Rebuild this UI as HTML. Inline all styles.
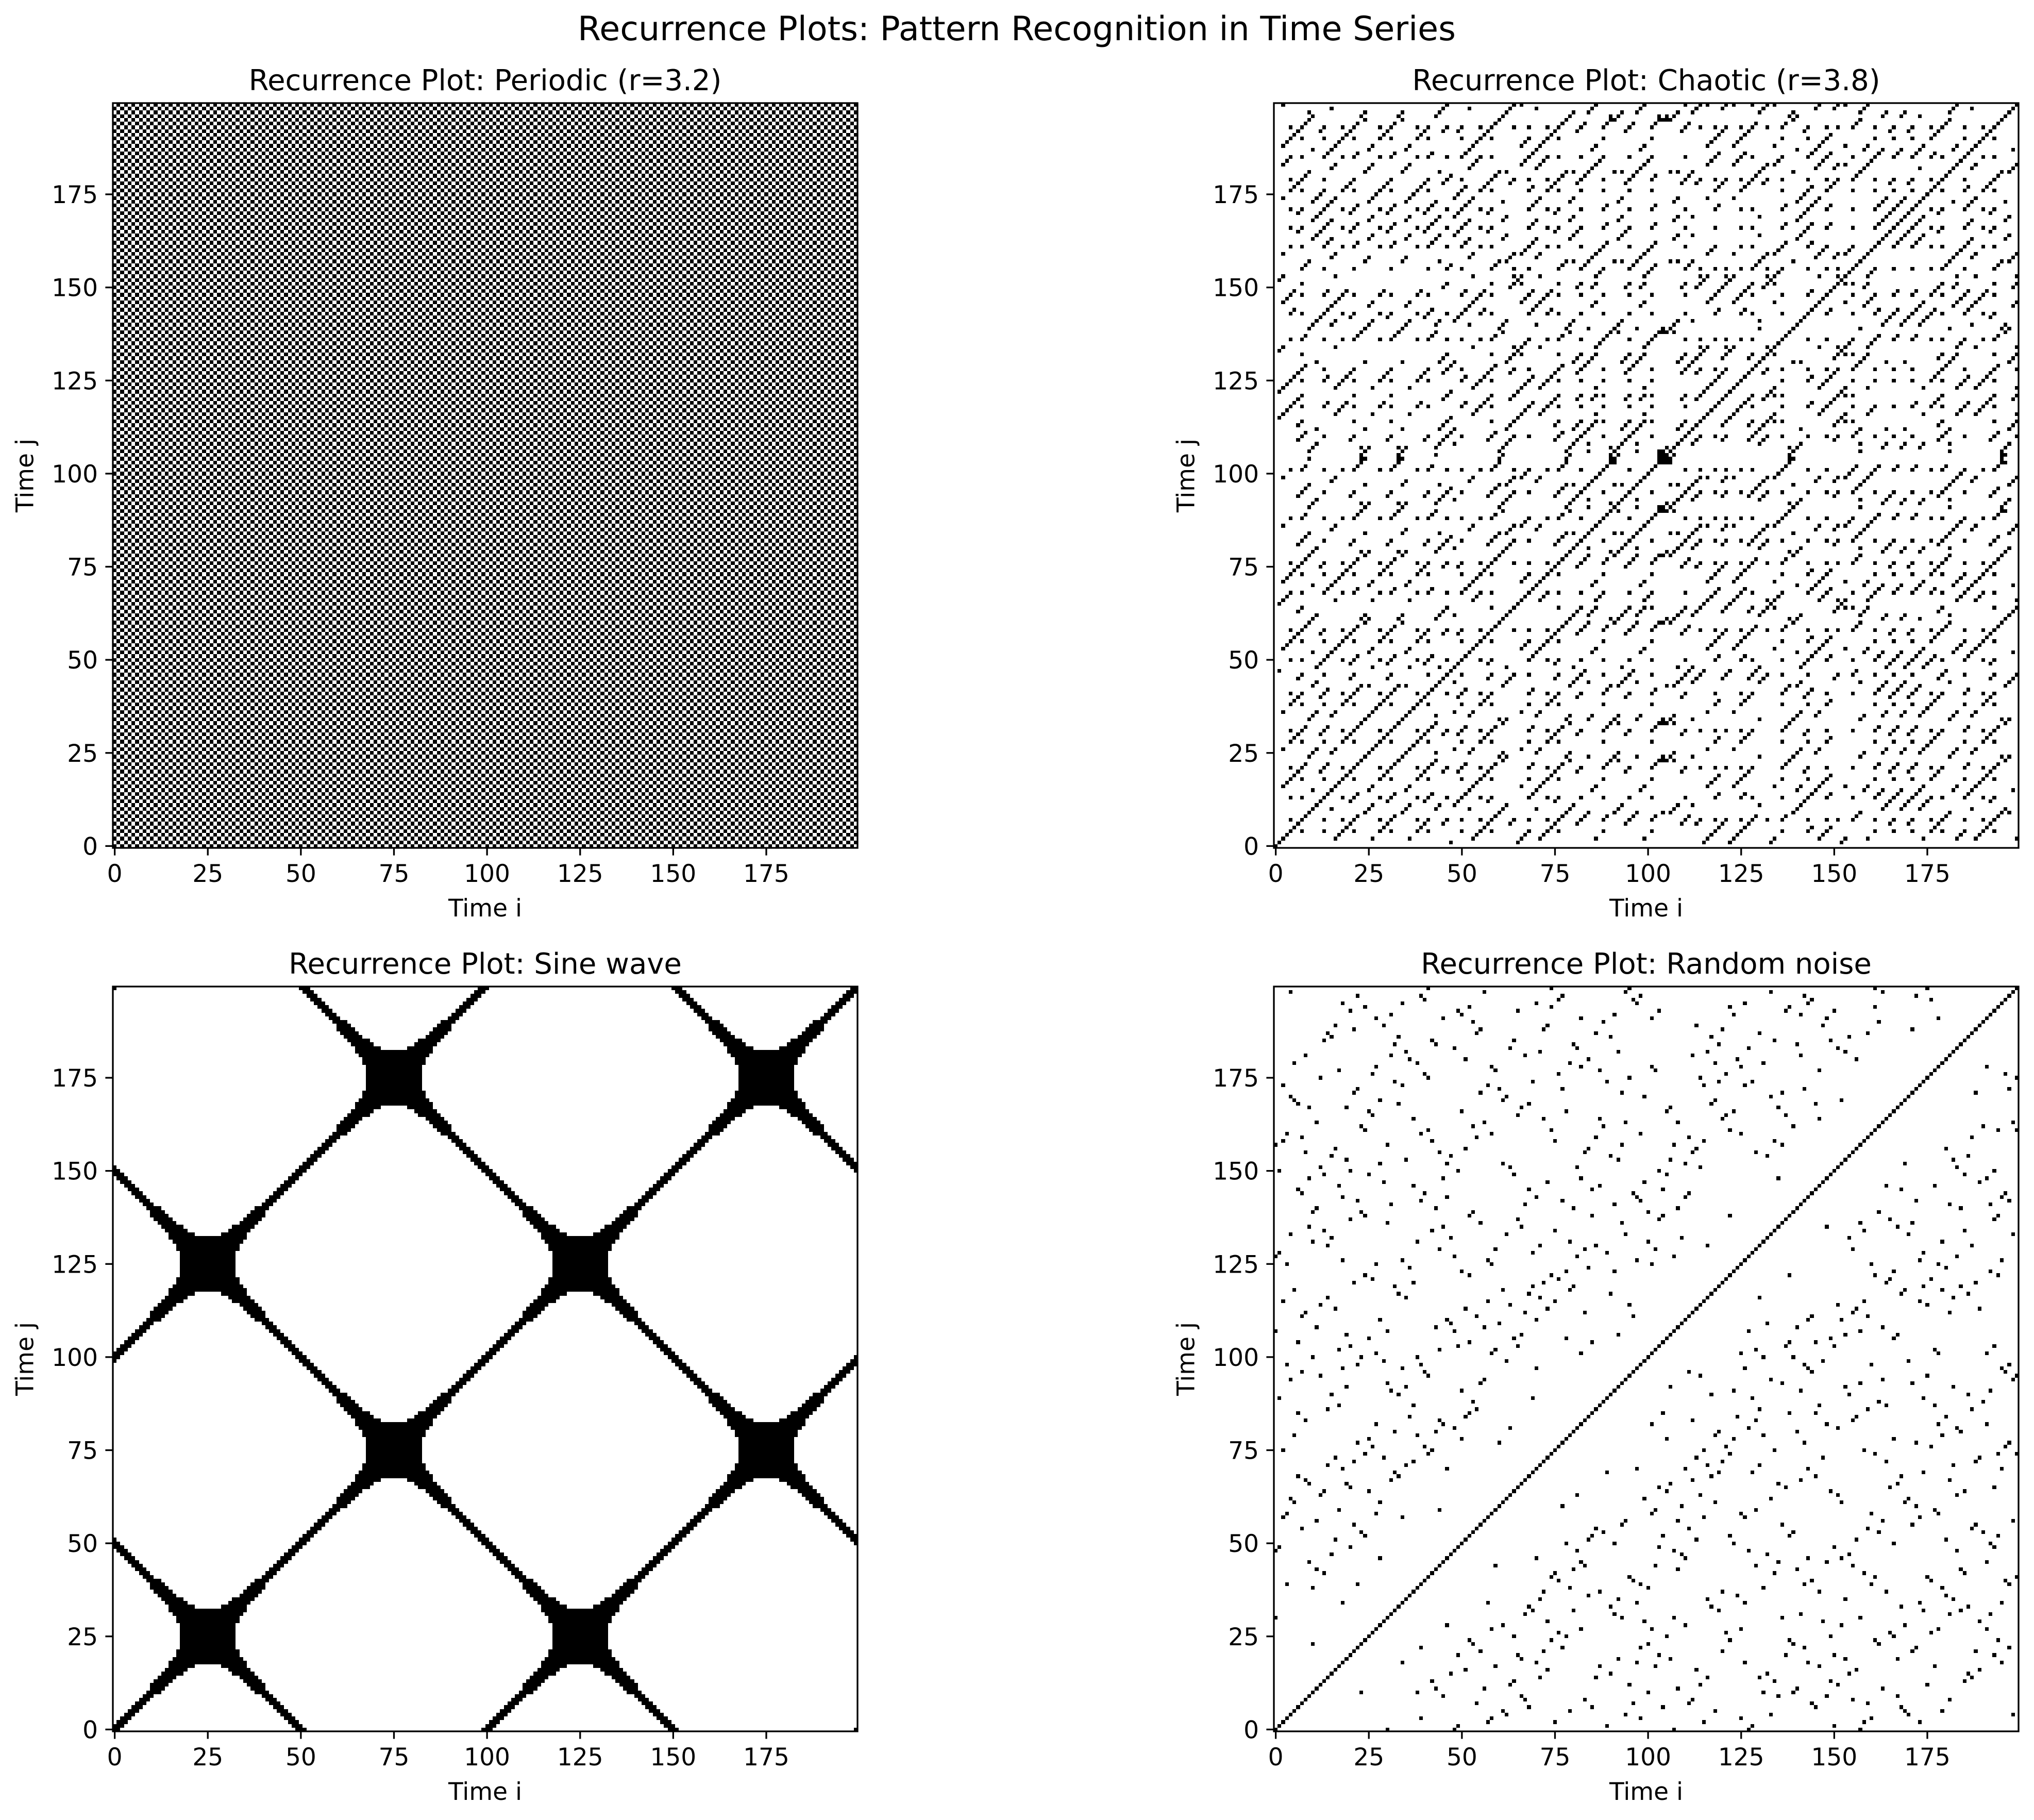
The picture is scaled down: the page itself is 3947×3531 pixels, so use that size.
<!DOCTYPE html>
<html><head><meta charset="utf-8"><style>
html,body{margin:0;padding:0;background:#fff;}
svg{display:block;}
text{font-family:"DejaVu Sans","Liberation Sans",sans-serif;fill:#000;}
</style></head><body>
<svg id="fig" width="3947" height="3531" viewBox="0 0 3947 3531" xmlns="http://www.w3.org/2000/svg">
<rect width="3947" height="3531" fill="#fff"/>
<text x="1973" y="78" font-size="65" text-anchor="middle">Recurrence Plots: Pattern Recognition in Time Series</text>
</svg>
<script>
// ---- data ----
const tickValues = [0, 25, 50, 75, 100, 125, 150, 175];
const nPoints = 200;
const periodicCycle = [0.513, 0.799];     // period-2 orbit of logistic map r=3.2
const chaoticParams = [3.8, 0.1];          // r, x0
const sinePeriod = [100];
const thresholds = [0.1, 0.03, 0.1, 0.015]; // periodic, chaotic, sine, noise
const noiseValues = [
 37,82,14,59,91,6,48,73,25,64,3,88,41,17,70,52,96,29,11,66,
 80,33,57,2,45,19,77,61,8,94,36,23,85,50,12,68,99,31,4,58,
 75,43,16,87,27,63,9,53,38,81,21,97,46,1,72,34,89,13,60,28,
 55,7,92,40,18,79,65,24,49,84,10,69,32,95,44,15,76,56,20,5,
 86,39,62,26,98,47,71,30,0,83,51,22,67,35,90,42,74,11,58,93,
 3,61,28,80,47,19,66,37,88,54,9,73,25,96,41,14,69,50,6,85,
 32,77,45,21,99,60,12,38,83,27,70,4,53,91,16,64,35,79,46,2,
 87,23,57,10,74,48,30,94,63,18,81,40,8,67,52,26,97,36,15,72,
 59,44,1,89,31,78,20,65,49,7,92,34,56,13,84,42,76,29,61,5,
 98,24,68,39,86,17,51,71,33,95,0,62,22,80,45,11,75,57,90,43];
const titles = ["Recurrence Plot: Periodic (r=3.2)","Recurrence Plot: Chaotic (r=3.8)","Recurrence Plot: Sine wave","Recurrence Plot: Random noise"];

// ---- series ----
function periodicSeries(){const s=[];for(let t=0;t<nPoints;t++)s.push(periodicCycle[t%2]);return s;}
function chaoticSeries(){const s=[];let x=chaoticParams[1];for(let t=0;t<nPoints;t++){s.push(x);x=chaoticParams[0]*x*(1-x);}return s;}
function sineSeries(){const s=[];for(let t=0;t<nPoints;t++)s.push(Math.sin(2*Math.PI*t/sinePeriod[0]));return s;}
function noiseSeries(){return noiseValues.map(v=>v/100);}

const NS="http://www.w3.org/2000/svg";
const svg=document.getElementById('fig');
const size=1445;
const panels=[
 {x:219,y:200,series:periodicSeries(),eps:thresholds[0],name:'periodic'},
 {x:2472,y:200,series:chaoticSeries(),eps:thresholds[1],name:'chaotic'},
 {x:219,y:1914,series:sineSeries(),eps:thresholds[2],name:'sine-wave'},
 {x:2472,y:1914,series:noiseSeries(),eps:thresholds[3],name:'random-noise'}
];
function mk(tag,attrs,parent){const e=document.createElementNS(NS,tag);for(const k in attrs)e.setAttribute(k,attrs[k]);(parent||svg).appendChild(e);return e;}

panels.forEach((p,pi)=>{
 const sx=v=>p.x+(v+0.5)/nPoints*size;
 const sy=v=>p.y+size-(v+0.5)/nPoints*size;
 const g=mk('g',{});
 
 
 let d='';
 const s=p.series;
 for(let j=0;j<nPoints;j++){
  const y0=Math.round(sy(j+0.5)), y1=Math.round(sy(j-0.5));
  let i=0;
  while(i<nPoints){
   if(Math.abs(s[i]-s[j])<=p.eps+1e-9){
    let k=i;while(k+1<nPoints&&Math.abs(s[k+1]-s[j])<=p.eps+1e-9)k++;
    const x0=Math.round(sx(i-0.5)), x1=Math.round(sx(k+0.5));
    d+=`M${x0} ${y0}H${x1}V${y1}H${x0}Z`;
    i=k+1;
   } else i++;
  }
 }
 const cells=mk('path',{d:d,fill:'#000'},g);
 
 
 const frame=mk('rect',{x:p.x,y:p.y,width:size,height:size,fill:'none',stroke:'#000','stroke-width':3.3},g);
 
 
 tickValues.forEach(t=>{
  const X=sx(t), Y=sy(t);
  const tx=mk('line',{x1:X,x2:X,y1:p.y+size,y2:p.y+size+14.6,stroke:'#000','stroke-width':3.3},g);
  
  
  const lx=mk('text',{x:X,y:p.y+size+66,'font-size':47,'text-anchor':'middle'},g);
  lx.textContent=t;
  
  
  const ty=mk('line',{x1:p.x-14.6,x2:p.x,y1:Y,y2:Y,stroke:'#000','stroke-width':3.3},g);
  
  
  const ly=mk('text',{x:p.x-29,y:Y+17,'font-size':47,'text-anchor':'end'},g);
  ly.textContent=t;
  
  
 });
 const xl=mk('text',{x:p.x+size/2,y:p.y+size+133,'font-size':47,'text-anchor':'middle'},g);
 xl.textContent='Time i';
 
 
 const yx=p.x-170, yy=p.y+size/2;
 const yl=mk('text',{x:yx,y:yy,'font-size':47,'text-anchor':'middle','dominant-baseline':'central',transform:`rotate(-90 ${yx} ${yy})`},g);
 yl.textContent='Time j';
 
 
 const tt=mk('text',{x:p.x+size/2,y:p.y-25,'font-size':56,'text-anchor':'middle'},g);
 tt.textContent=titles[pi];
 
 
});
</script>
</body></html>
